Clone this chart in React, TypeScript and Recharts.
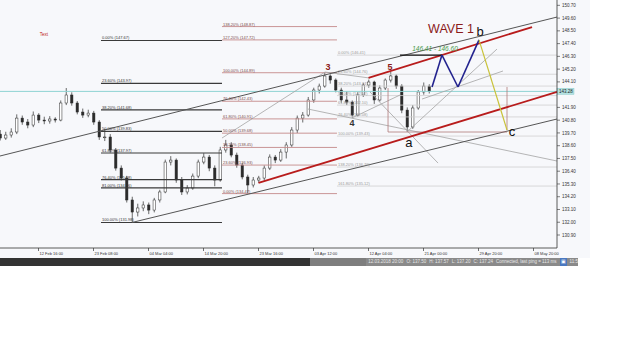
import React from "react";
import {
  ComposedChart,
  Bar,
  XAxis,
  YAxis,
  ReferenceLine,
  ReferenceDot,
} from "recharts";

// candles, one every 4h-ish slot; index 0 sits on the "12 Feb 16:00" tick
const opens = [
  139.6, 139.26, 139.52, 139.78, 140.98, 140.64, 140.38, 141.24, 140.81, 140.73,
  140.9, 140.81, 142.28, 142.97, 142.28, 141.5, 141.24, 141.41, 140.64, 139.35,
  139.35, 138.23, 136.67, 135.81, 133.92, 132.88, 133.23, 133.49, 133.05, 133.92,
  134.61, 137.19, 137.36, 135.64, 134.61, 134.95, 135.98, 137.19, 137.62, 136.67,
  135.64, 138.23, 138.66, 137.79, 136.93, 135.9, 135.21, 135.64, 135.81, 136.67,
  137.62, 137.36, 138.05, 138.66, 139.95, 140.98, 141.24, 142.54, 143.4, 143.74,
  144.61, 144.26, 143.4, 142.54, 142.36, 141.24, 142.97, 143.83, 144.09, 142.54,
  143.57, 144.26, 144.61, 143.74, 141.67, 140.21, 141.85, 143.23, 143.74,
];
const highs = [
  139.95, 139.8, 140.1, 141.3, 141.2, 140.9, 141.55, 141.4, 141.1, 141.15,
  141.05, 142.5, 143.57, 143.2, 142.45, 141.8, 141.7, 141.6, 140.8, 140.05,
  139.6, 138.4, 136.9, 136.0, 134.2, 133.6, 133.8, 133.7, 134.1, 134.8,
  137.4, 137.7, 137.5, 135.9, 135.2, 136.2, 137.4, 137.95, 137.8, 136.9,
  138.5, 139.1, 138.9, 138.0, 137.1, 136.1, 135.9, 136.0, 136.9, 137.85,
  137.8, 138.3, 138.9, 140.2, 141.2, 141.5, 142.8, 143.6, 143.95, 144.89,
  144.75, 144.4, 143.6, 143.3, 142.5, 143.2, 144.0, 144.3, 144.2, 143.8,
  144.4, 144.95, 144.75, 143.9, 141.9, 142.1, 143.4, 144.05, 143.9,
];
const lows = [
  139.05, 139.1, 139.3, 139.6, 140.4, 140.1, 140.2, 140.55, 140.45, 140.5,
  140.6, 140.7, 142.1, 142.05, 141.3, 141.0, 141.05, 140.4, 139.1, 139.0,
  138.0, 136.45, 135.6, 133.7, 131.98, 132.5, 132.95, 132.7, 132.85, 133.7,
  134.5, 136.9, 135.4, 134.35, 134.4, 134.8, 135.8, 137.0, 136.4, 135.1,
  135.5, 138.0, 137.6, 136.7, 135.7, 134.47, 135.0, 135.4, 135.6, 136.5,
  137.1, 137.2, 137.5, 138.5, 139.7, 140.6, 141.1, 142.3, 143.1, 143.6,
  143.95, 143.2, 142.3, 142.1, 140.99, 141.1, 142.8, 143.6, 142.2, 142.4,
  143.4, 144.05, 143.5, 141.4, 139.78, 140.05, 141.7, 143.0, 143.1,
];
const closes = [
  139.26, 139.52, 139.78, 140.98, 140.64, 140.38, 141.24, 140.81, 140.73, 140.9,
  140.81, 142.28, 142.97, 142.28, 141.5, 141.24, 141.41, 140.64, 139.35, 139.35,
  138.23, 136.67, 135.81, 133.92, 132.88, 133.23, 133.49, 133.05, 133.92, 134.61,
  137.19, 137.36, 135.64, 134.61, 134.95, 135.98, 137.19, 137.62, 136.67, 135.64,
  138.23, 138.66, 137.79, 136.93, 135.9, 135.21, 135.64, 135.81, 136.67, 137.62,
  137.36, 138.05, 138.66, 139.95, 140.98, 141.24, 142.54, 143.4, 143.74, 144.61,
  144.26, 143.4, 142.54, 142.36, 141.24, 142.97, 143.83, 144.09, 142.54, 143.57,
  144.26, 144.61, 143.74, 141.67, 140.21, 141.85, 143.23, 143.74, 143.28,
];
const firstIndex = -7;

const timeTicks = [0, 10, 20, 30, 40, 50, 60, 70, 80, 90];
const timeLabels = [
  "12 Feb 16:00", "23 Feb 08:00", "04 Mar 04:00", "14 Mar 20:00", "23 Mar 16:00",
  "03 Apr 12:00", "12 Apr 04:00", "21 Apr 00:00", "29 Apr 20:00", "08 May 20:00",
];
// 143.00 sits under the last-price tag, so it is left out
const priceTicks = [
  150.7, 149.6, 148.5, 147.4, 146.3, 145.2, 144.1, 141.9, 140.8,
  139.7, 138.6, 137.5, 136.4, 135.3, 134.2, 133.1, 132.0, 130.9,
];
const lastPrice = 143.28;

// fibonacci groups
const leftPct = ["0.00%", "23.60%", "38.20%", "50.00%", "61.80%", "76.40%", "81.00%", "100.00%"];
const leftLevels = [147.67, 143.97, 141.68, 139.83, 137.97, 135.68, 134.96, 131.98];
const leftSpan = [11.36, 33.36];

const redPct = ["138.20%", "127.20%", "100.00%", "76.40%", "61.80%", "50.00%", "38.20%", "23.60%", "0.00%"];
const redLevels = [148.87, 147.72, 144.89, 142.43, 140.91, 139.68, 138.45, 136.93, 134.47];
const redSpan = [33.36, 54.27];

const grayPct = ["0.00%", "23.60%", "38.20%", "50.00%", "61.80%", "76.40%", "100.00%", "138.20%", "161.80%"];
const grayLevels = [146.41, 144.76, 143.74, 142.92, 142.1, 141.08, 139.43, 136.76, 135.12];
const graySpan = [54.27, 94.27];

// drawn lines: [[index, price], [index, price]]
const darkLines = [
  [[-7, 137.71], [94.27, 149.69]],
  [[17, 131.98], [94.27, 140.9]],
];
const redChannel = [
  [[60, 144.45], [89.73, 148.83]],
  [[40, 135.4], [94.27, 143.23]],
];
const grayLines = [
  [[67, 139.78], [83.36, 146.93]],
  [[69.73, 142.62], [84.45, 145.04]],
  [[33.36, 139.26], [52.09, 144.95]],
  [[52.09, 144.95], [60.27, 144.43]],
  [[49, 141.76], [94.27, 137.28]],
  [[60.27, 143.23], [72.64, 137.1]],
  [[57, 140.99], [65.73, 142.97]],
];
const brownLines = [
  [[63.55, 139.78], [85.18, 139.78]],
  [[63.55, 143.57], [63.55, 139.78]],
  [[85.18, 143.66], [85.18, 139.95]],
];
const blackLines = [[[65.73, 146.41], [73.36, 146.41]]];
const blueWave = [
  [71.55, 143.66],
  [73.36, 146.41],
  [76.27, 143.66],
  [80.09, 147.72],
];
const yellowWave = [[80.09, 147.72], [85.18, 139.95]];

const redMarks = [
  { text: "3", i: 52.64, p: 145.38 },
  { text: "5", i: 63.91, p: 145.38 },
];
const grayMarks = [{ text: "4", i: 57, p: 140.55 }];
const blackMarks = [
  { text: "a", i: 67.36, p: 138.92 },
  { text: "c", i: 86.09, p: 139.86 },
  { text: "b", i: 80.27, p: 148.48 },
];

const candles = closes.map((c, k) => ({
  i: firstIndex + k,
  open: opens[k],
  high: highs[k],
  low: lows[k],
  close: c,
  range: [lows[k], highs[k]],
}));

const INK = "#2b2b2b";

const Candle = (props: any) => {
  const { x, y, width, height, payload } = props;
  if (x == null || y == null) return null;
  const { open, close, high, low } = payload;
  const h = Math.abs(height);
  const top = Math.min(y, y + height);
  const k = high > low ? h / (high - low) : 0;
  const cx = x + width / 2;
  const bTop = top + (high - Math.max(open, close)) * k;
  const bBot = top + (high - Math.min(open, close)) * k;
  const up = close >= open;
  return (
    <g>
      <line x1={cx} x2={cx} y1={top} y2={top + h} stroke={INK} strokeWidth={0.7} />
      <rect
        x={cx - 1.2}
        y={bTop}
        width={2.4}
        height={Math.max(0.8, bBot - bTop)}
        fill={up ? "#ffffff" : INK}
        stroke={INK}
        strokeWidth={0.5}
      />
    </g>
  );
};

const TimeTick = (props: any) => {
  const { x, y, payload } = props;
  const label = timeLabels[timeTicks.indexOf(payload.value)];
  return (
    <g>
      <line x1={x} x2={x} y1={y} y2={y + 3} stroke="#333" strokeWidth={0.7} />
      <text x={x + 1} y={y + 7} fontSize={4} fill="#333">
        {label}
      </text>
    </g>
  );
};

const seg = (s: number[][]) => [
  { x: s[0][0], y: s[0][1] },
  { x: s[1][0], y: s[1][1] },
];

function fibLines(pcts: string[], levels: number[], span: number[], stroke: string, width: number, textFill: string, key: string) {
  return levels.map((lv, k) => (
    <ReferenceLine
      key={key + k}
      segment={[{ x: span[0], y: lv }, { x: span[1], y: lv }]}
      stroke={stroke}
      strokeWidth={width}
      ifOverflow="visible"
      label={{
        value: `${pcts[k]} (${lv.toFixed(2)})`,
        position: "insideBottomLeft",
        offset: 1,
        fontSize: 4,
        fill: textFill,
      }}
    />
  ));
}

function textMarks(marks: { text: string; i: number; p: number }[], fill: string, size: number, weight: string, key: string) {
  return marks.map((m, k) => (
    <ReferenceDot
      key={key + k}
      x={m.i}
      y={m.p}
      r={0}
      fill="none"
      stroke="none"
      ifOverflow="visible"
      label={{ value: m.text, position: "center", fill, fontSize: size, fontWeight: weight }}
    />
  ));
}

export default function App() {
  return (
    <div
      style={{
        position: "absolute",
        left: 0,
        top: 0,
        width: 625,
        height: 351,
        background: "#ffffff",
        fontFamily: "'Liberation Sans', Arial, sans-serif",
      }}
    >
      <div style={{ position: "absolute", left: 0, top: 0, width: 590, height: 258, background: "#f7f8fb" }}>
        <ComposedChart
          width={590}
          height={258}
          data={candles}
          margin={{ top: 0, right: 0, bottom: 0, left: 0 }}
          style={{ fontFamily: "'Liberation Sans', Arial, sans-serif" }}
        >
          <XAxis
            dataKey="i"
            type="number"
            domain={[-7, 94.27]}
            allowDataOverflow
            ticks={timeTicks}
            tick={<TimeTick />}
            tickLine={false}
            tickSize={0}
            tickMargin={0}
            height={10}
            axisLine={{ stroke: "#333", strokeWidth: 0.8 }}
          />
          <YAxis
            orientation="right"
            type="number"
            domain={[129.78, 151.16]}
            allowDataOverflow
            ticks={priceTicks}
            width={33}
            tickSize={3}
            tickMargin={2}
            tickFormatter={(v: number) => v.toFixed(2)}
            tick={{ fontSize: 4.5, fill: "#333" }}
            tickLine={{ stroke: "#333", strokeWidth: 0.6 }}
            axisLine={{ stroke: "#333", strokeWidth: 0.8 }}
          />

          <ReferenceLine
            y={lastPrice}
            stroke="#8fd3d3"
            strokeWidth={1}
            label={({ viewBox }: any) => (
              <g>
                <rect x={viewBox.x + viewBox.width} y={viewBox.y - 3} width={17} height={6} fill="#b3e2e2" stroke="#7cc4c4" strokeWidth={0.4} />
                <text x={viewBox.x + viewBox.width + 2} y={viewBox.y + 1.6} fontSize={4.5} fill="#222">
                  {lastPrice.toFixed(2)}
                </text>
              </g>
            )}
          />

          {fibLines(leftPct, leftLevels, leftSpan, "#3a3a3a", 1.2, "#333", "fl")}
          {fibLines(redPct, redLevels, redSpan, "#c48a8a", 0.9, "#7a4a4a", "fr")}
          {fibLines(grayPct, grayLevels, graySpan, "#cfcfcf", 0.8, "#9a9a9a", "fg")}

          {grayLines.map((s, k) => (
            <ReferenceLine key={"g" + k} segment={seg(s)} stroke="#a3a3a3" strokeWidth={0.8} ifOverflow="visible" />
          ))}
          {darkLines.map((s, k) => (
            <ReferenceLine key={"d" + k} segment={seg(s)} stroke="#555" strokeWidth={1} ifOverflow="visible" />
          ))}
          {brownLines.map((s, k) => (
            <ReferenceLine key={"b" + k} segment={seg(s)} stroke="#b07a7a" strokeWidth={0.8} ifOverflow="visible" />
          ))}
          {redChannel.map((s, k) => (
            <ReferenceLine key={"r" + k} segment={seg(s)} stroke="#b81c1c" strokeWidth={1.8} ifOverflow="visible" />
          ))}
          {blackLines.map((s, k) => (
            <ReferenceLine key={"k" + k} segment={seg(s)} stroke="#111" strokeWidth={1.3} ifOverflow="visible" />
          ))}
          {blueWave.slice(1).map((pt, k) => (
            <ReferenceLine
              key={"w" + k}
              segment={seg([blueWave[k], pt])}
              stroke="#23238f"
              strokeWidth={1.6}
              ifOverflow="visible"
            />
          ))}
          <ReferenceLine segment={seg(yellowWave)} stroke="#c9c23a" strokeWidth={1.2} ifOverflow="visible" />

          <Bar dataKey="range" barSize={4} shape={<Candle />} isAnimationActive={false} />

          {textMarks(redMarks, "#8b1a1a", 9, "bold", "rm")}
          {textMarks(grayMarks, "#333", 9, "bold", "gm")}
          {textMarks(blackMarks, "#111", 13, "normal", "bm")}
          <ReferenceDot
            x={75}
            y={148.66}
            r={0}
            fill="none"
            stroke="none"
            ifOverflow="visible"
            label={{ value: "WAVE 1", position: "center", fill: "#8b1a1a", fontSize: 12.5 }}
          />
          <ReferenceDot
            x={72.09}
            y={146.93}
            r={0}
            fill="none"
            stroke="none"
            ifOverflow="visible"
            label={{ value: "146.41 - 146.60", position: "center", fill: "#4a9a4a", fontSize: 6.5, fontStyle: "italic" }}
          />
          <ReferenceDot
            x={1}
            y={148.23}
            r={0}
            fill="none"
            stroke="none"
            ifOverflow="visible"
            label={{ value: "Text", position: "center", fill: "#c02020", fontSize: 4.5 }}
          />
        </ComposedChart>
      </div>

      <div
        style={{
          position: "absolute",
          left: 0,
          top: 258,
          width: 578,
          height: 8,
          display: "flex",
          fontSize: 4.5,
          lineHeight: "8px",
          color: "#e8e8e8",
          whiteSpace: "nowrap",
        }}
      >
        <div style={{ width: 323, background: "#333" }} />
        <div style={{ width: 59, background: "#7e7e7e" }} />
        <div style={{ flex: 1, background: "#8a8a8a", display: "flex", gap: 3, paddingLeft: 2 }}>
          <span>12.03.2018 20:00</span>
          <span>O: 137.50</span>
          <span>H: 137.57</span>
          <span>L: 137.20</span>
          <span>C: 137.24</span>
          <span>Connected, last ping = 113 ms</span>
          <span style={{ color: "#fff", background: "#4a78c0", padding: "0 1px" }}>▣</span>
          <span>11:5</span>
        </div>
      </div>
    </div>
  );
}
